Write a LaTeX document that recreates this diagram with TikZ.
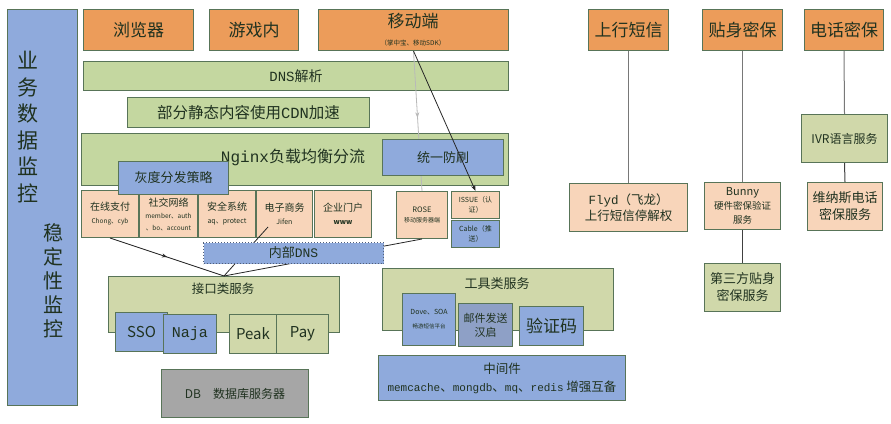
\documentclass[tikz,border=0pt]{standalone}
\usepackage{fontspec}
\setmainfont{Noto Sans CJK SC}
\newfontfamily\latmono{Liberation Mono}
\usetikzlibrary{arrows.meta,decorations.markings}

\definecolor{orangebox}{RGB}{236,156,90}
\definecolor{greenbox}{RGB}{196,215,160}
\definecolor{olivebox}{RGB}{208,216,170}
\definecolor{peachbox}{RGB}{248,213,186}
\definecolor{bluebox}{RGB}{143,170,220}
\definecolor{slatebox}{RGB}{142,160,198}
\definecolor{graybox}{RGB}{166,166,166}
\definecolor{edge}{RGB}{88,116,88}
\definecolor{ink}{RGB}{32,50,32}
\definecolor{lightlink}{RGB}{185,185,185}
\definecolor{midlink}{RGB}{120,120,120}

\newcommand{\fz}[2]{\fontsize{#1}{#2}\selectfont}

\begin{document}
\begin{tikzpicture}[x=1pt,y=-1pt,
  box/.style={draw=edge,line width=1pt,anchor=north west,inner sep=1pt,text=ink,align=center},
  lbl/.style={text=ink,inner sep=0pt,align=center},
  link/.style={line width=0.8pt,draw=black!85},
  midarrow/.style={postaction={decorate},decoration={markings,
      mark=at position 0.5 with {\arrow{Stealth[length=5pt,width=4pt]}}}},
  tipped/.style={-{Stealth[length=6pt,width=4.5pt]}}]

\useasboundingbox (0,0) rectangle (891,423);

% ---- monitoring column ----
\node[box,fill=bluebox,minimum width=70pt,minimum height=396pt] (monitor) at (7,9) {};
\node[lbl,font=\fz{21}{26.5}] (monA) at (28,127) {业\\务\\数\\据\\监\\控};
\node[lbl,font=\fz{20}{24}] (monB) at (53,281) {稳\\定\\性\\监\\控};

% ---- clients ----
\node[box,fill=orangebox,minimum width=110pt,minimum height=41pt,font=\fz{17}{20}] (browser) at (83,9) {浏览器};
\node[box,fill=orangebox,minimum width=89pt,minimum height=41pt,font=\fz{17}{20}] (game) at (209,9) {游戏内};
\node[box,fill=orangebox,minimum width=190pt,minimum height=41pt] (mobile) at (318,9) {};
\node[lbl,font=\fz{17}{20}] (mobileT) at (413,21) {移动端};
\node[lbl,font=\fz{6.5}{8}] (mobileS) at (413,43) {（掌中宝、移动SDK）};

\node[box,fill=orangebox,minimum width=80pt,minimum height=41pt,font=\fz{17}{20}] (sms) at (588,9) {上行短信};
\node[box,fill=orangebox,minimum width=80pt,minimum height=41pt,font=\fz{17}{20}] (token) at (702,9) {贴身密保};
\node[box,fill=orangebox,minimum width=79pt,minimum height=41pt,font=\fz{17}{20}] (phone) at (804,9) {电话密保};

% ---- access layers ----
\node[box,fill=greenbox,minimum width=425pt,minimum height=29pt,font=\fz{14}{17}] (dns) at (83,61) {{\latmono DNS}解析};
\node[box,fill=greenbox,minimum width=242pt,minimum height=30pt,font=\fz{15.5}{18}] (cdn) at (127,97) {部分静态内容使用{\latmono CDN}加速};
\node[box,fill=greenbox,minimum width=427pt,minimum height=52pt] (nginx) at (81,133) {};
\node[lbl,font=\fz{16}{19}] (nginxT) at (293,157) {{\latmono Nginx}负载均衡分流};

% mobile traffic straight to ROSE (below the anti-flood box)
\node[box,fill=peachbox,minimum width=51pt,minimum height=47pt,font=\fz{7.5}{9}] (rose) at (396,191) {ROSE\\[1pt]\fz{6}{7}移动服务器端};
\draw[line width=0.8pt,draw=lightlink,postaction={decorate},decoration={markings,
      mark=at position 0.48 with {\arrow[lightlink]{Stealth[length=6pt,width=4pt]}}}]
  (mobile.south) -- (rose.north);

\node[box,fill=bluebox,minimum width=121pt,minimum height=36pt,font=\fz{13}{16}] (antiflood) at (382,139) {统一防刷};

% ---- business systems ----
\node[box,fill=peachbox,minimum width=57pt,minimum height=47pt,font=\fz{10}{12}] (payment) at (81,190) {在线支付\\[1pt]\fz{6.5}{8}Chong、cyb};
\node[box,fill=peachbox,minimum width=58pt,minimum height=47pt,font=\fz{10}{12}] (social) at (139,190) {社交网络\\\fz{6.5}{11}member、auth\\\fz{6.5}{11}、bo、account};
\node[box,fill=peachbox,minimum width=57pt,minimum height=47pt,font=\fz{10}{12}] (security) at (198,190) {安全系统\\[1pt]\fz{7}{8}aq、protect};
\node[box,fill=peachbox,minimum width=56pt,minimum height=47pt,font=\fz{10}{12}] (ecom) at (256,190) {电子商务\\[1pt]\fz{7}{8}Jifen};
\node[box,fill=peachbox,minimum width=57pt,minimum height=47pt,font=\fz{10}{12}] (portal) at (314,190) {企业门户\\[1pt]\fz{7}{8}\bfseries www};

\node[box,fill=bluebox,minimum width=110pt,minimum height=33pt,font=\fz{13}{16}] (gray) at (118,161) {灰度分发策略};

\node[box,fill=peachbox,minimum width=48pt,minimum height=27pt,font=\fz{7}{10}] (issue) at (451,191) {ISSUE（认\\证）};
\node[box,fill=bluebox,minimum width=48pt,minimum height=27pt,font=\fz{7}{10}] (cable) at (451,220) {Cable（推\\送）};

\draw[link,tipped] (mobile.south) -- (issue.north);

% ---- interface services ----
\node[box,fill=olivebox,minimum width=231pt,minimum height=56pt] (api) at (108,276) {};
\node[lbl,font=\fz{12.5}{15}] (apiT) at (223,289) {接口类服务};

\coordinate (ecomtap) at (268,227);
\draw[link] (api.north) -- (rose.south);
\draw[link,midarrow] (payment.south) -- (api.north);
\draw[link,midarrow] (ecomtap) -- (api.north);

\node[box,fill=bluebox,minimum width=180pt,minimum height=21pt,draw=bluebox!55!black,dotted,font=\fz{13}{16}] (innerdns) at (203,242) {内部{\latmono DNS}};

\node[box,fill=bluebox,minimum width=52pt,minimum height=39pt,font=\fz{15}{18}] (sso) at (115,312) {SSO};
\node[box,fill=bluebox,minimum width=53pt,minimum height=39pt,font=\fz{15}{18}] (naja) at (163,314) {\latmono Naja};
\node[box,fill=olivebox,minimum width=47pt,minimum height=39pt,font=\fz{15}{18}] (peak) at (229,314) {Peak};
\node[box,fill=olivebox,minimum width=52pt,minimum height=39pt,font=\fz{15}{18}] (paysvc) at (276,314) {Pay};

\node[box,fill=graybox,minimum width=147pt,minimum height=48pt,font=\fz{12}{15}] (db) at (161,369) {DB\quad 数据库服务器};

% ---- tool services ----
\node[box,fill=olivebox,minimum width=231pt,minimum height=62pt] (tools) at (382,268) {};
\node[lbl,font=\fz{13}{16}] (toolsT) at (497,284) {工具类服务};
\node[box,fill=bluebox,minimum width=53pt,minimum height=52pt,font=\fz{7}{9}] (dove) at (402,293) {Dove、SOA\\[5pt]\fz{5.5}{7}畅游短信平台};
\node[box,fill=slatebox,minimum width=54pt,minimum height=43pt,font=\fz{11}{14}] (mail) at (458,303) {邮件发送\\汉启};
\node[box,fill=bluebox,minimum width=64pt,minimum height=39pt,font=\fz{17}{20}] (captcha) at (519,306) {验证码};

\node[box,fill=bluebox,minimum width=247pt,minimum height=45pt,font=\fz{12.5}{18}] (middleware) at (378,355)
  {中间件\\{\latmono\fz{11}{12}memcache}、{\latmono\fz{11}{12}mongdb}、{\latmono\fz{11}{12}mq}、{\latmono\fz{11}{12}redis} 增强互备};

% ---- security services ----
\node[box,fill=peachbox,minimum width=118pt,minimum height=48pt,font=\fz{12.5}{16}] (flyd) at (569,183) {{\latmono Flyd}（飞龙）\\上行短信停解权};
\node[box,fill=peachbox,minimum width=76pt,minimum height=47pt,font=\fz{11}{14}] (bunny) at (704,182) {Bunny\\\fz{9.5}{13}硬件密保验证\\\fz{9.5}{13}服务};
\node[box,fill=olivebox,minimum width=76pt,minimum height=48pt,font=\fz{13}{17}] (third) at (704,263) {第三方贴身\\密保服务};
\node[box,fill=olivebox,minimum width=86pt,minimum height=48pt,font=\fz{12}{15}] (ivr) at (801,114) {IVR语言服务};
\node[box,fill=peachbox,minimum width=75pt,minimum height=48pt,font=\fz{13}{17}] (venus) at (807,182) {维纳斯电话\\密保服务};

\draw[line width=1pt,midlink] (sms.south) -- (flyd.north);
\draw[line width=1pt,midlink] (token.south) -- (bunny.north);
\draw[line width=1pt,black!75] (bunny.south) -- (third.north);
\draw[line width=1pt,midlink] (phone.south) -- (ivr.north);
\draw[line width=1pt,black!75] (ivr.south) -- (venus.north);

\end{tikzpicture}
\end{document}
